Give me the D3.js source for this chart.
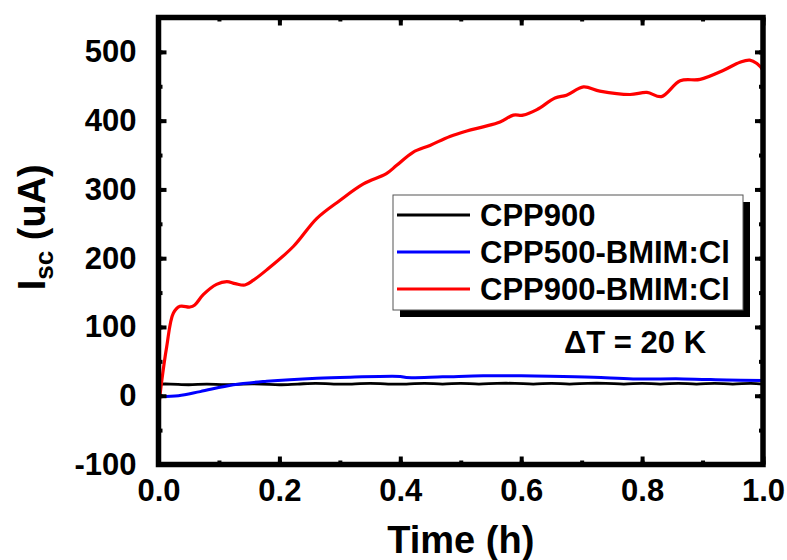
<!DOCTYPE html>
<html lang="en">
<head>
<meta charset="utf-8" />
<title>Isc vs time</title>
<script src="https://cdn.jsdelivr.net/npm/d3@7"></script>
<style>
  body { margin: 0; background: #fff; }
  text { font-family: "Liberation Sans", Arial, sans-serif; font-weight: bold; fill: #000; }
  .line { fill: none; stroke-linejoin: round; stroke-linecap: round; }
</style>
</head>
<body>
<div id="chart"></div>
<script>
// series names and colours
var seriesNames = ["CPP900", "CPP500-BMIM:Cl", "CPP900-BMIM:Cl"];
var seriesColors = ["#000000", "#0000ff", "#ff0000"];

// CPP900 (black), nearly flat
var blackX = [0.0, 0.02, 0.05, 0.08, 0.11, 0.14, 0.17, 0.2, 0.23, 0.26, 0.29, 0.32, 0.35, 0.38, 0.41, 0.44, 0.47, 0.5, 0.53, 0.56, 0.59, 0.62, 0.65, 0.68, 0.71, 0.74, 0.77, 0.8, 0.83, 0.86, 0.89, 0.92, 0.95, 0.98, 1.0];
var blackY = [17, 17, 16, 17, 16, 17, 17, 16, 17, 18, 17, 17, 18, 17, 17, 18, 17, 18, 17, 18, 18, 17, 18, 17, 18, 18, 17, 18, 17, 18, 17, 18, 17, 18, 17];

// CPP500-BMIM:Cl (blue)
var blueX = [0.0, 0.033, 0.069, 0.124, 0.179, 0.262, 0.317, 0.4, 0.41, 0.47, 0.537, 0.6, 0.648, 0.72, 0.785, 0.868, 0.94, 1.0];
var blueY = [-1, 0, 6, 16, 21, 25.5, 27, 28, 26.5, 27.5, 29, 29, 28.5, 27, 24.5, 24.5, 23, 22];

// CPP900-BMIM:Cl (red)
var redX = [0.0, 0.005, 0.0135, 0.0245, 0.0356, 0.052, 0.06, 0.074, 0.096, 0.113, 0.127, 0.143, 0.157, 0.179, 0.223, 0.262, 0.3, 0.339, 0.377, 0.394, 0.421, 0.449, 0.482, 0.51, 0.537, 0.565, 0.587, 0.603, 0.626, 0.656, 0.675, 0.703, 0.73, 0.78, 0.808, 0.832, 0.863, 0.896, 0.934, 0.962, 0.978, 0.99, 1.0];
var redY = [-20, 19, 71, 120, 130, 129, 132, 147, 162, 166, 163, 161, 168, 183, 217, 258, 284, 308, 323, 335, 354, 364, 377, 385, 391, 398, 408, 408, 416, 433, 437, 449, 443, 438, 441, 435, 458, 460, 473, 485, 488, 483, 473];

var xTicks = [0.0, 0.2, 0.4, 0.6, 0.8, 1.0];
var yTicks = [-100, 0, 100, 200, 300, 400, 500];

// plot box in page pixels
var W = 787, H = 560;
var plotL = 158.5, plotR = 763, plotT = 17.5, plotB = 464.5;

var x = d3.scaleLinear().domain([0, 1]).range([plotL, plotR]);
var y = d3.scaleLinear().domain([-100, 550]).range([plotB, plotT]);

var svg = d3.select("#chart").append("svg")
    .attr("width", W)
    .attr("height", H);

var line = d3.line()
    .x(function(d) { return x(d[0]); })
    .y(function(d) { return y(d[1]); })
    .curve(d3.curveCatmullRom);

var data = [
  d3.zip(blackX, blackY),
  d3.zip(blueX, blueY),
  d3.zip(redX, redY)
];
var widths = [2.8, 3, 3.2];

data.forEach(function(d, i) {
  svg.append("path")
    .datum(d)
    .attr("class", "line")
    .style("stroke", seriesColors[i])
    .style("stroke-width", widths[i])
    .attr("d", line);
});

// axes, ticks point inward on all four sides
var xMinor = d3.range(0, 1.0001, 0.1);
var yMinor = d3.range(-100, 551, 50);

function noDomain(g) { g.select(".domain").remove(); }
function bigText(g) { g.selectAll("text").style("font-size", "31px").attr("font-family", null); }

svg.append("g")
    .attr("transform", "translate(0," + plotB + ")")
    .call(d3.axisBottom(x).tickValues(xTicks).tickFormat(d3.format(".1f")).tickSizeInner(-8).tickSizeOuter(0).tickPadding(14))
    .call(noDomain).call(bigText);
svg.append("g")
    .attr("transform", "translate(0," + plotB + ")")
    .call(d3.axisBottom(x).tickValues(xMinor).tickFormat("").tickSizeInner(-4).tickSizeOuter(0))
    .call(noDomain);
svg.append("g")
    .attr("transform", "translate(0," + plotT + ")")
    .call(d3.axisTop(x).tickValues(xTicks).tickFormat("").tickSizeInner(-8).tickSizeOuter(0))
    .call(noDomain);
svg.append("g")
    .attr("transform", "translate(0," + plotT + ")")
    .call(d3.axisTop(x).tickValues(xMinor).tickFormat("").tickSizeInner(-4).tickSizeOuter(0))
    .call(noDomain);

svg.append("g")
    .attr("transform", "translate(" + plotL + ",0)")
    .call(d3.axisLeft(y).tickValues(yTicks).tickFormat(function(d) { return String(d); })
      .tickSizeInner(-8).tickSizeOuter(0).tickPadding(22))
    .call(noDomain).call(bigText);
svg.append("g")
    .attr("transform", "translate(" + plotL + ",0)")
    .call(d3.axisLeft(y).tickValues(yMinor).tickFormat("").tickSizeInner(-4).tickSizeOuter(0))
    .call(noDomain);
svg.append("g")
    .attr("transform", "translate(" + plotR + ",0)")
    .call(d3.axisRight(y).tickValues(yTicks).tickFormat("").tickSizeInner(-8).tickSizeOuter(0))
    .call(noDomain);
svg.append("g")
    .attr("transform", "translate(" + plotR + ",0)")
    .call(d3.axisRight(y).tickValues(yMinor).tickFormat("").tickSizeInner(-4).tickSizeOuter(0))
    .call(noDomain);

svg.selectAll(".tick line").attr("stroke", "#000").attr("stroke-width", 4);

// frame
svg.append("rect")
    .attr("x", plotL).attr("y", plotT)
    .attr("width", plotR - plotL).attr("height", plotB - plotT)
    .attr("fill", "none").attr("stroke", "#000").attr("stroke-width", 5.5);

// axis titles
svg.append("text")
    .attr("x", x(0.5)).attr("y", 553)
    .attr("text-anchor", "middle")
    .style("font-size", "38px")
    .text("Time (h)");

var yl = svg.append("text")
    .attr("transform", "translate(45," + (y(245)) + ") rotate(-90)")
    .attr("text-anchor", "middle")
    .style("font-size", "38px");
yl.append("tspan").text("I");
yl.append("tspan").attr("dy", 8).style("font-size", "26px").text("sc");
yl.append("tspan").attr("dy", -8).text(" (uA)");

// legend with drop shadow
var lg = svg.append("g");
lg.append("rect")
    .attr("x", 400).attr("y", 202).attr("width", 350).attr("height", 115)
    .attr("fill", "#000");
lg.append("rect")
    .attr("x", 393).attr("y", 195).attr("width", 350).attr("height", 115)
    .attr("fill", "#fff").attr("stroke", "#555").attr("stroke-width", 1);

seriesNames.forEach(function(name, i) {
  var cy = 215 + i * 37;
  lg.append("line")
    .attr("x1", 397).attr("x2", 470)
    .attr("y1", cy).attr("y2", cy)
    .attr("stroke", seriesColors[i]).attr("stroke-width", 3);
  lg.append("text")
    .attr("x", 480).attr("y", cy + 11)
    .style("font-size", "31px")
    .text(name);
});

svg.append("text")
    .attr("x", 564).attr("y", 353)
    .style("font-size", "31px")
    .text("\u0394T = 20 K");
</script>
</body>
</html>
